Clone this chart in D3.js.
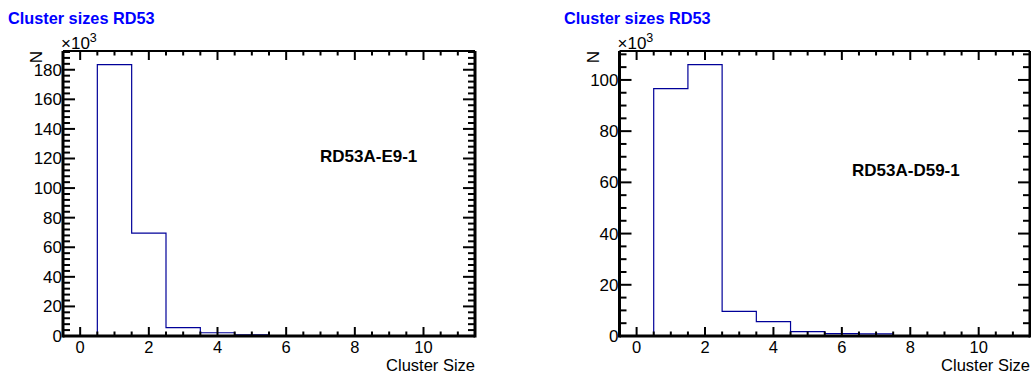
<!DOCTYPE html>
<html>
<head>
<meta charset="utf-8">
<script src="https://cdn.jsdelivr.net/npm/d3@7"></script>
<style>
  body { margin: 0; background: #fff; }
  svg text { font-family: "Liberation Sans", Arial, Helvetica, sans-serif; }
</style>
</head>
<body>
<div id="chart"></div>
<script>
/* cluster size histograms, two RD53 modules */

// bin centres 0..11 (bin width 1, range -0.5..11.5)
var binCenters = d3.range(0, 12);

// counts per bin
var countsE9  = [0, 183500, 69600, 5600, 2200, 700, 150, 60, 20, 0, 0, 0];
var countsD59 = [0, 96600, 106000, 9600, 5600, 1700, 900, 800, 150, 50, 0, 0];

var xTickValues = [0, 2, 4, 6, 8, 10];
var yTicksE9  = [0, 20, 40, 60, 80, 100, 120, 140, 160, 180];
var yTicksD59 = [0, 20, 40, 60, 80, 100];

var histTitle = "Cluster sizes RD53";
var xTitle = "Cluster Size";
var yTitle = "N";
var moduleNames = ["RD53A-E9-1", "RD53A-D59-1"];

var W = 1031, H = 374;

var svg = d3.select("#chart").append("svg")
    .attr("width", W)
    .attr("height", H);

function drawPanel(cfg){
    var g = svg.append("g");
    var x0 = cfg.left, x1 = cfg.right, y0 = 51, y1 = 336;

    var x = d3.scaleLinear().domain([-0.5, 11.5]).range([x0, x1]);
    var ymax = d3.max(cfg.counts) * 1.05 / 1000;
    var y = d3.scaleLinear().domain([0, ymax]).range([y1, y0]);

    // title
    g.append("text")
        .attr("x", cfg.titleX).attr("y", 24)
        .style("font-size", "16.3px")
        .style("font-weight", "bold")
        .style("fill", "#0000ff")
        .text(histTitle);

    // histogram step line
    var pts = [];
    cfg.counts.forEach(function(c, i){
        pts.push([binCenters[i] - 0.5, c / 1000]);
        pts.push([binCenters[i] + 0.5, c / 1000]);
    });
    var line = d3.line()
        .x(d => x(d[0]))
        .y(d => y(d[1]));
    g.append("path")
        .attr("d", line(pts))
        .style("fill", "none")
        .style("stroke", "#000099")
        .style("stroke-width", 1.2);

    // x ticks (bottom and top), every 0.5, majors every 2
    var xMinor = d3.range(0, 23).map(i => i * 0.5);
    xMinor.forEach(function(v){
        var major = (v % 2 === 0);
        var len = major ? 9 : 4.5;
        g.append("line")
            .attr("x1", x(v)).attr("x2", x(v))
            .attr("y1", y1).attr("y2", y1 - len)
            .style("stroke", "#000").style("stroke-width", 2);
        g.append("line")
            .attr("x1", x(v)).attr("x2", x(v))
            .attr("y1", y0).attr("y2", y0 + len)
            .style("stroke", "#000").style("stroke-width", 2);
    });

    // y ticks (left and right)
    var yMinor = d3.range(0, ymax, cfg.yMinorStep);
    yMinor.forEach(function(v){
        var major = Math.abs(v / 20 - Math.round(v / 20)) < 1e-6;
        var len = major ? 12 : 7;
        g.append("line")
            .attr("x1", x0).attr("x2", x0 + len)
            .attr("y1", y(v)).attr("y2", y(v))
            .style("stroke", "#000").style("stroke-width", 2);
        g.append("line")
            .attr("x1", x1).attr("x2", x1 - len)
            .attr("y1", y(v)).attr("y2", y(v))
            .style("stroke", "#000").style("stroke-width", 2);
    });

    // frame
    g.append("line").attr("x1", x0).attr("x2", x1).attr("y1", y0).attr("y2", y0)
        .style("stroke", "#000").style("stroke-width", 2);
    g.append("line").attr("x1", x0).attr("x2", x1).attr("y1", y1).attr("y2", y1)
        .style("stroke", "#000").style("stroke-width", 3);
    g.append("line").attr("x1", x0).attr("x2", x0).attr("y1", y0).attr("y2", y1 + 1.5)
        .style("stroke", "#000").style("stroke-width", 3);
    g.append("line").attr("x1", x1).attr("x2", x1).attr("y1", y0).attr("y2", y1 + 1.5)
        .style("stroke", "#000").style("stroke-width", 3);

    // x tick labels
    g.selectAll(".xl").data(xTickValues).enter().append("text")
        .attr("x", d => x(d)).attr("y", 352.5)
        .attr("text-anchor", "middle")
        .style("font-size", "16.5px")
        .text(d => d);

    // y tick labels
    g.selectAll(".yl").data(cfg.yTicks).enter().append("text")
        .attr("x", x0 - 1).attr("y", d => y(d) + 6)
        .attr("text-anchor", "end")
        .style("font-size", "17px")
        .text(d => d);

    // exponent
    var ex = g.append("text")
        .attr("x", x0 - 2).attr("y", 49)
        .style("font-size", "17px");
    ex.append("tspan").text("\u00d710");
    ex.append("tspan").attr("dy", -7).style("font-size", "12.5px").text("3");

    // axis titles
    g.append("text")
        .attr("x", x1).attr("y", 371)
        .attr("text-anchor", "end")
        .style("font-size", "16.5px")
        .text(xTitle);
    g.append("text")
        .attr("transform", "translate(" + (x0 - 21) + "," + y0 + ") rotate(-90)")
        .attr("text-anchor", "end")
        .style("font-size", "17px")
        .text(yTitle);

    // module label
    g.append("text")
        .attr("x", cfg.labelX).attr("y", cfg.labelY)
        .style("font-size", "17px")
        .style("font-weight", "bold")
        .text(cfg.name);
}

drawPanel({left: 63, right: 475, titleX: 8, counts: countsE9, yTicks: yTicksE9,
           yMinorStep: 4, name: moduleNames[0], labelX: 320, labelY: 162});
drawPanel({left: 619.5, right: 1030, titleX: 564, counts: countsD59, yTicks: yTicksD59,
           yMinorStep: 5, name: moduleNames[1], labelX: 852, labelY: 176});
</script>
</body>
</html>
